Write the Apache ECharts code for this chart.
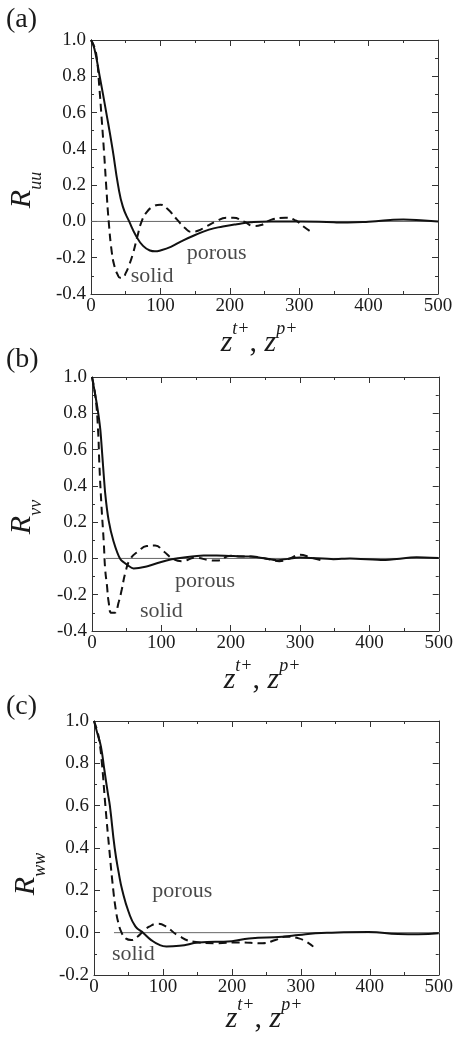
<!DOCTYPE html>
<html><head><meta charset="utf-8">
<script src="https://cdn.jsdelivr.net/npm/echarts@6/dist/echarts.min.js"></script>
<style>html,body{margin:0;padding:0;background:#fff}#c{width:456px;height:1041px}</style>
</head><body><div id="c"></div>
<script>
// ---------- data ----------
const panelLetters = ['(a)', '(b)', '(c)'];
const yTitleSubs = ['uu', 'vv', 'ww'];
const yMins = [-0.4, -0.4, -0.2];
const yMax = 1.0;
const xMin = 0, xMax = 500, xStep = 100;

// (a) R_uu
const uuPorousX = [0, 5, 12.5, 22, 31, 39, 46, 55, 65, 75, 85, 92, 100, 115, 130, 150, 170, 190, 210, 230, 260, 300, 350, 370, 400, 450, 480, 500];
const uuPorousY = [1.0, 0.95, 0.8, 0.6, 0.4, 0.2, 0.08, 0.0, -0.08, -0.135, -0.16, -0.165, -0.16, -0.14, -0.11, -0.075, -0.045, -0.028, -0.015, -0.005, 0.0, 0.0, -0.005, -0.006, -0.002, 0.01, 0.005, 0.0];
const uuSolidX = [0, 4, 8, 12, 15.5, 19, 22, 25.5, 30, 34, 38, 42, 46, 50, 55, 61, 67, 73, 80, 90, 100, 110, 124, 135, 145, 155, 165, 180, 195, 205, 220, 235, 245, 260, 280, 295, 305, 316];
const uuSolidY = [1.0, 0.97, 0.91, 0.74, 0.56, 0.37, 0.19, 0.0, -0.17, -0.25, -0.29, -0.31, -0.31, -0.285, -0.24, -0.17, -0.08, 0.0, 0.05, 0.083, 0.092, 0.07, 0.01, -0.035, -0.058, -0.05, -0.03, 0.0, 0.02, 0.02, 0.0, -0.025, -0.02, 0.01, 0.02, 0.005, -0.025, -0.055];

// (b) R_vv
const vvPorousX = [0, 7, 12, 15, 19, 24, 31, 41, 53, 60, 77, 96, 115, 135, 161, 180, 204, 228, 250, 266, 300, 348, 372, 420, 468, 500];
const vvPorousY = [1.0, 0.85, 0.71, 0.56, 0.36, 0.21, 0.095, -0.005, -0.042, -0.055, -0.046, -0.024, -0.005, 0.007, 0.016, 0.016, 0.013, 0.01, 0.0, -0.01, 0.005, -0.004, 0.0, -0.009, 0.006, 0.002];
const vvSolidX = [0, 5, 8.7, 10.6, 13.5, 17, 19, 21.6, 24, 28, 32.7, 38.5, 43, 48, 55, 67, 79, 91, 103, 118, 130, 149, 170, 180, 200, 215, 230, 250, 270, 285, 300, 315, 330];
const vvSolidY = [1.0, 0.89, 0.71, 0.52, 0.3, 0.086, -0.06, -0.15, -0.24, -0.3, -0.30, -0.24, -0.17, -0.08, -0.005, 0.04, 0.068, 0.071, 0.04, -0.005, -0.015, 0.004, -0.01, -0.012, 0.015, 0.01, 0.01, 0.0, -0.015, 0.0, 0.02, 0.005, -0.01];

// (c) R_ww
const wwPorousX = [0, 5, 10, 15, 20, 23, 30, 36, 41, 50, 60, 71, 83, 95, 105, 124, 152, 200, 225, 273, 297, 321, 345, 398, 441, 470, 500];
const wwPorousY = [1.0, 0.94, 0.88, 0.77, 0.66, 0.6, 0.4, 0.28, 0.2, 0.1, 0.03, 0.0, -0.035, -0.058, -0.065, -0.062, -0.047, -0.04, -0.027, -0.019, -0.011, -0.003, 0.0, 0.003, -0.006, -0.008, -0.003];
const wwSolidX = [0, 5, 8, 11.5, 16.5, 22, 28, 32, 35, 40, 46, 54, 63, 71, 80, 92, 104, 121, 145, 176, 210, 244, 263, 277, 297, 318];
const wwSolidY = [1.0, 0.95, 0.9, 0.8, 0.6, 0.4, 0.2, 0.1, 0.05, 0.0, -0.027, -0.035, -0.019, 0.005, 0.028, 0.042, 0.03, -0.011, -0.043, -0.05, -0.046, -0.05, -0.035, -0.019, -0.027, -0.066];

// zero reference lines (x extent)
const zeroLineX = [[0, 500], [20, 516], [29, 522]];

// annotation labels [x, y, text]
const annotations = [
  [[181, -0.175, 'porous'], [88, -0.30, 'solid']],
  [[163, -0.125, 'porous'], [100, -0.29, 'solid']],
  [[128, 0.197, 'porous'], [57, -0.10, 'solid']]
];

// ---------- layout ----------
const grids = [
  {left: 91, top: 40, width: 347, height: 254},
  {left: 92, top: 377, width: 347, height: 254},
  {left: 94, top: 721, width: 347, height: 254}
];
const porousSmooth = [0.5, 0.2, 0.5];
const FONT = '"Liberation Serif", "Times New Roman", serif';
const AX = '#333';
const TXT = '#1a1a1a';

const pairs = (xs, ys) => xs.map((x, i) => [x, ys[i]]);
const porousData = [pairs(uuPorousX, uuPorousY), pairs(vvPorousX, vvPorousY), pairs(wwPorousX, wwPorousY)];
const solidData = [pairs(uuSolidX, uuSolidY), pairs(vvSolidX, vvSolidY), pairs(wwSolidX, wwSolidY)];

const xAxes = [], yAxes = [], series = [], graphics = [];
grids.forEach((g, k) => {
  const common = {
    gridIndex: k, type: 'value', min: xMin, max: xMax, interval: xStep,
    axisLine: {show: true, onZero: false, lineStyle: {color: AX, width: 1}},
    axisTick: {show: true, inside: true, length: 6, lineStyle: {color: AX, width: 1}},
    minorTick: {show: true, splitNumber: 2, length: 3, lineStyle: {color: AX, width: 1}},
    splitLine: {show: false}, minorSplitLine: {show: false}
  };
  xAxes.push(Object.assign({}, common, {position: 'bottom',
    axisLabel: {show: true, margin: 3, fontFamily: FONT, fontSize: 19, color: TXT}}));
  xAxes.push(Object.assign({}, common, {position: 'top', axisLabel: {show: false}}));
  const ycommon = Object.assign({}, common, {min: yMins[k], max: yMax, interval: 0.2});
  yAxes.push(Object.assign({}, ycommon, {position: 'left',
    axisLabel: {show: true, margin: 5, fontFamily: FONT, fontSize: 19, color: TXT,
      formatter: v => v.toFixed(1)}}));
  yAxes.push(Object.assign({}, ycommon, {position: 'right', axisLabel: {show: false}}));

  const xi = k * 2, yi = k * 2;
  series.push({type: 'line', xAxisIndex: xi, yAxisIndex: yi, silent: true, clip: false,
    data: zeroLineX[k].map(x => [x, 0]), showSymbol: false, symbol: 'none',
    lineStyle: {color: '#666', width: 1}, z: 1});
  series.push({type: 'line', name: 'porous', xAxisIndex: xi, yAxisIndex: yi, silent: true,
    data: porousData[k], showSymbol: false, symbol: 'none', smooth: porousSmooth[k],
    lineStyle: {color: '#111', width: 2}, z: 3});
  series.push({type: 'line', name: 'solid', xAxisIndex: xi, yAxisIndex: yi, silent: true,
    data: solidData[k], showSymbol: false, symbol: 'none', smooth: 0.5,
    lineStyle: {color: '#111', width: 2, type: [8, 5]}, z: 3});
  series.push({type: 'scatter', xAxisIndex: xi, yAxisIndex: yi, silent: true,
    data: annotations[k], symbolSize: 0,
    label: {show: true, position: 'inside', formatter: p => p.data[2],
      fontFamily: FONT, fontSize: 22, color: TXT}, z: 4});
});

const letterY = [20, 360, 707];
const yTitlePos = [[36, 190], [36, 517], [40, 874]];
const xTitlePos = [[259, 343], [262, 680], [264, 1019]];
panelLetters.forEach((t, k) => {
  graphics.push({type: 'text', x: 6, y: letterY[k], style: {text: t, fontFamily: FONT, fontSize: 28,
    fill: TXT, align: 'left', verticalAlign: 'middle'}});
  graphics.push({type: 'text', x: yTitlePos[k][0], y: yTitlePos[k][1], rotation: Math.PI / 2,
    style: {text: '{r|R}{s|' + yTitleSubs[k] + '}', align: 'center', verticalAlign: 'middle', fill: TXT,
      rich: {
        r: {fontFamily: FONT, fontStyle: 'italic', fontSize: 30, lineHeight: 30, verticalAlign: 'top', fill: TXT},
        s: {fontFamily: FONT, fontStyle: 'italic', fontSize: 18, lineHeight: 58, verticalAlign: 'middle', fill: TXT}
      }}});
  graphics.push({type: 'text', x: xTitlePos[k][0], y: xTitlePos[k][1],
    style: {text: '{z|z}{p|t+}{c|, }{z|z}{p|p+}', align: 'center', verticalAlign: 'middle', fill: TXT,
      rich: {
        z: {fontFamily: FONT, fontStyle: 'italic', fontSize: 30, lineHeight: 46, verticalAlign: 'middle', fill: TXT},
        c: {fontFamily: FONT, fontSize: 30, lineHeight: 46, verticalAlign: 'middle', fill: TXT},
        p: {fontFamily: FONT, fontStyle: 'italic', fontSize: 18, lineHeight: 18, verticalAlign: 'top', fill: TXT}
      }}});
});

const chart = echarts.init(document.getElementById('c'), null, {renderer: 'canvas'});
chart.setOption({
  animation: false,
  backgroundColor: '#fff',
  grid: grids,
  xAxis: xAxes,
  yAxis: yAxes,
  series: series,
  graphic: graphics
});
</script></body></html>
